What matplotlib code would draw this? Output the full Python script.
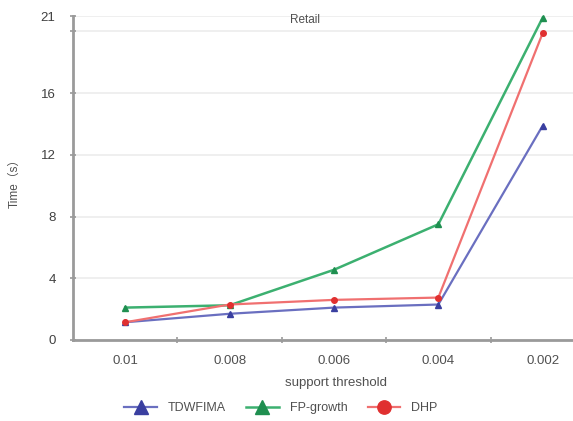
import matplotlib.pyplot as plt

# Data
thresholds = ['0.01', '0.008', '0.006', '0.004', '0.002']
tdwfima = [1.15, 1.7, 2.1, 2.3, 13.9]
fp_growth = [2.1, 2.25, 4.55, 7.5, 20.9]
dhp = [1.15, 2.3, 2.6, 2.75, 19.9]

plt.rcParams['font.family'] = ['Liberation Sans', 'Noto Sans CJK SC', 'DejaVu Sans']

fig = plt.figure(figsize=(5.73, 4.21), dpi=100)
ax = fig.add_axes([73 / 573, 81 / 421, 1 - 73 / 573, 324 / 421])

x = list(range(len(thresholds)))
ax.plot(x, tdwfima, color='#6a6fc0', lw=1.6, marker='^', ms=4,
        mfc='#3a3fa0', mec='#3a3fa0', label='TDWFIMA', clip_on=False, zorder=3)
ax.plot(x, fp_growth, color='#3cb070', lw=1.8, marker='^', ms=4,
        mfc='#1f8f50', mec='#1f8f50', label='FP-growth', clip_on=False, zorder=3)
ax.plot(x, dhp, color='#f07070', lw=1.6, marker='o', ms=4,
        mfc='#e03030', mec='#e03030', label='DHP', clip_on=False, zorder=3)

ax.set_xlim(-0.5, 4.29)
ax.set_ylim(0, 21)
ax.set_xticks(x)
ax.set_xticklabels(thresholds)
ax.set_xticks([i + 0.5 for i in x[:-1]], minor=True)
ax.tick_params(axis='x', which='major', length=0, pad=11, labelsize=9.5, labelcolor='#505050')
ax.tick_params(axis='x', which='minor', length=4, width=1.2, color='#999999', direction='inout')
ax.set_yticks([0, 4, 8, 12, 16, 21])
ax.set_yticks([20], minor=True)
ax.tick_params(axis='y', which='both', length=5, width=1.2, color='#999999',
               direction='inout', labelsize=9.5, labelcolor='#404040', pad=10)
ax.grid(axis='y', which='both', color='#ececec', lw=1.2)
ax.set_axisbelow(True)

for side in ['top', 'right']:
    ax.spines[side].set_visible(False)
for side in ['left', 'bottom']:
    ax.spines[side].set_color('#9a9a9a')
    ax.spines[side].set_linewidth(2)

fig.text(305 / 573, 1 - 20 / 421, 'Retail', ha='center', va='center', fontsize=8.5, color='#505050')
fig.text(15 / 573, 1 - 180 / 421, 'Time（s）', ha='center', va='center', rotation=90,
         fontsize=8.5, color='#505050')
fig.text(336 / 573, 1 - 383 / 421, 'support threshold', ha='center', va='center',
         fontsize=9.5, color='#505050')

leg = fig.legend(loc='center', bbox_to_anchor=(281 / 573, 1 - 408 / 421), ncol=3, frameon=False,
                 fontsize=9, handlelength=2.6, markerscale=2.4, columnspacing=1.6,
                 handletextpad=0.9)
for t in leg.get_texts():
    t.set_color('#505050')

fig.savefig('out.png', dpi=100)
